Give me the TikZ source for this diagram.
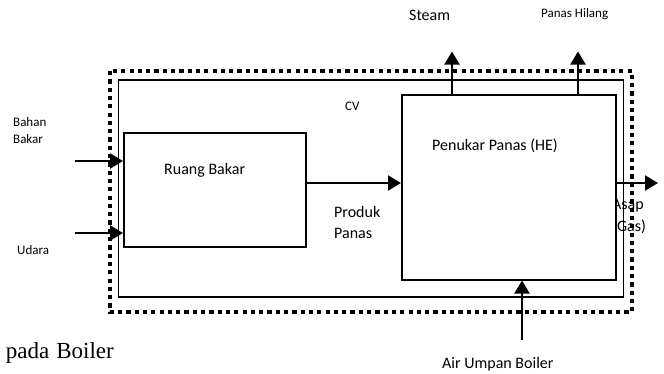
\documentclass[tikz,border=0pt]{standalone}
\usepackage{fontspec}
\setmainfont{Carlito}
\newfontfamily\serifcap{Liberation Serif}
\usetikzlibrary{arrows.meta}
\tikzset{
  box/.style={draw=black,line width=1.5pt,fill=white},
  flow/.style={draw=black,line width=2.2pt,-{Triangle[length=13pt,width=15pt]}},
  cvline/.style={draw=black,line width=4pt,dash pattern=on 4.2pt off 4.1pt},
  big/.style={font=\fontsize{16}{20}\selectfont,inner sep=0pt,anchor=base west},
  small/.style={font=\fontsize{13}{17}\selectfont,inner sep=0pt,anchor=base west},
}
\begin{document}
\begin{tikzpicture}[x=1pt,y=-1pt]
\useasboundingbox (0,0) rectangle (664,373);
% exhaust label (partly hidden behind the heat exchanger)
\node[big] (asap) at (612,209) {Asap};
\node[big] (gas) at (612,231) {(Gas)};
% control volume
\draw[box,fill=none] (118.3,80) rectangle (623.7,297);
\node[box,minimum width=182pt,minimum height=114pt,inner sep=0pt,anchor=north west] (rb) at (123,132) {};
\node[box,minimum width=214pt,minimum height=185pt,inner sep=0pt,anchor=north west] (he) at (401,94) {};
\draw[cvline] (110,71) rectangle (632,312);
% labels
\node[big] (rbl) at (164,174) {Ruang Bakar};
\node[big] (hel) at (432,150) {Penukar Panas (HE)};
\node[small] (cv) at (345,110) {CV};
\node[big] (steam) at (409,20.5) {Steam};
\node[small] (ph) at (541,17) {Panas Hilang};
\node[small] (bb1) at (13,126) {Bahan};
\node[small] (bb2) at (13,143) {Bakar};
\node[small] (ud) at (17,254) {Udara};
\node[big] (pp1) at (334,217.5) {Produk};
\node[big] (pp2) at (334,238.5) {Panas};
\node[big] (air) at (442,368.3) {Air Umpan Boiler};
\node[font=\serifcap\fontsize{23}{26}\selectfont,inner sep=0pt,anchor=base east] (cap) at (114,358) {pada\hspace{7pt}Boiler};
% connectors
\coordinate (bbs) at (75,161);
\coordinate (uds) at (75,233);
\coordinate (steamE) at (452,51.5);
\coordinate (phE) at (578,51.5);
\coordinate (asapE) at (658,183);
\coordinate (airS) at (522,340);
\draw[flow] (bbs) -- (bbs -| rb.west);
\draw[flow] (uds) -- (uds -| rb.west);
\draw[flow] (rb.east |- 0,183) -- (he.west |- 0,183);
\draw[flow] (he.east |- asapE) -- (asapE);
\draw[flow] (steamE |- he.north) -- (steamE);
\draw[flow] (phE |- he.north) -- (phE);
\draw[flow] (airS) -- (airS |- he.south);
\end{tikzpicture}
\end{document}
